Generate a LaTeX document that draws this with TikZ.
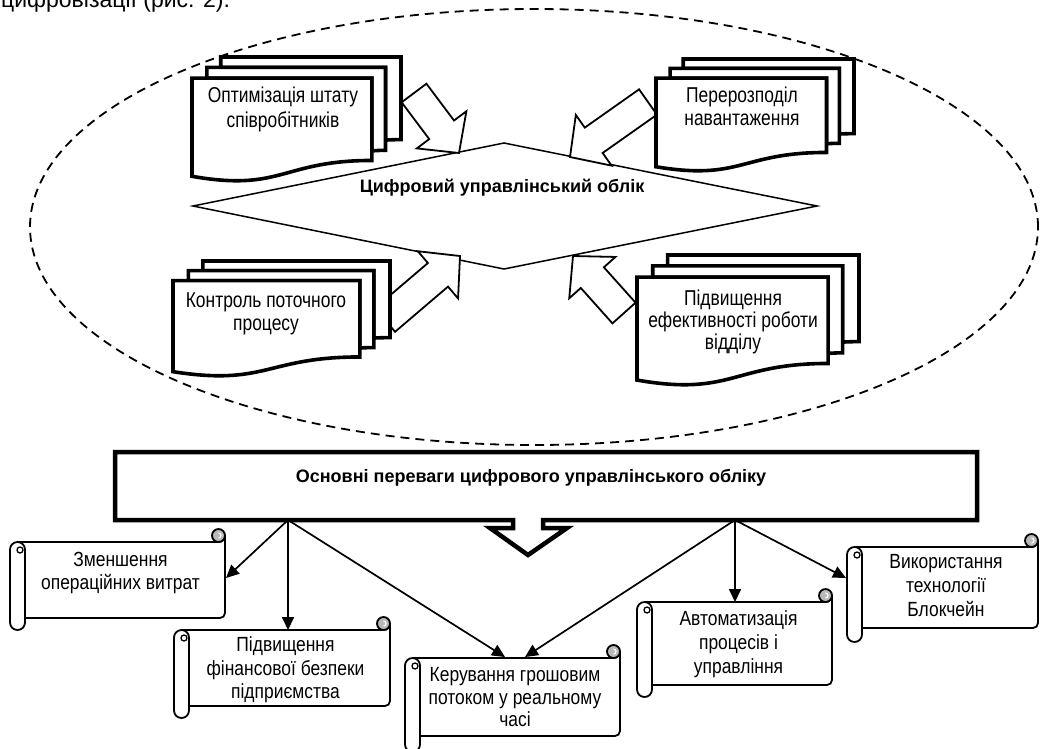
\documentclass[tikz,border=0pt]{standalone}
\usepackage{fontspec}
\setmainfont{Liberation Sans}[FakeStretch=0.85]
\newfontfamily\plainfam{Liberation Sans}
\newfontfamily\docfam{Liberation Sans}[FakeStretch=0.81]
\usetikzlibrary{calc,arrows.meta}
\newcommand\mdoc[4]{%
 \begin{scope}[shift={(#1,#2)},xscale=#3/216,yscale=#4/216]
  \draw[docln] (29.72,18.15) -- (29.72,0) -- (216,0) -- (216,143.92) .. controls (208,143.92) and (200,144.67) .. (200,144.67) -- (200,18.15) -- cycle;
  \draw[docln] (15.32,36.75) -- (15.32,18.15) -- (200,18.15) -- (200,162.52) .. controls (192.98,162.52) and (185.95,163.52) .. (185.95,163.52) -- (185.95,36.75) -- cycle;
  \draw[docln] (0,207.82) .. controls (92.98,235.42) and (92.98,180.22) .. (185.95,180.22) -- (185.95,36.75) -- (0,36.75) -- cycle;
 \end{scope}}
\newcommand\scrl[5]{%
 \draw[scr] (#1+7.5,#2) -- (#3-6.5,#2) arc[start angle=-90,end angle=0,radius=6.5pt] -- (#3,#4-5) arc[start angle=0,end angle=-90,radius=5pt] -- (#1+7.5,#4) -- cycle;
 \draw[scr,fill=gray!55] (#3-6.5,#2-6.5) circle[radius=6.5pt];
 \draw[line width=1.2pt,white] (#3-6.5,#2-4) arc[start angle=-90,end angle=90,radius=2.5pt];
 \draw[scr] (#1,#2+7.5) -- (#1,#5-7.5) arc[start angle=180,end angle=360,radius=7.5pt] -- (#1+15,#2+7.5) arc[start angle=0,end angle=180,radius=7.5pt] -- cycle;
 \draw[line width=1.3pt] (#1+10,#2+8) circle[radius=3pt];}
\newcommand\barrow[2]{%
 \path (#1) coordinate (bT) (#2) coordinate (bH);
 \path ($(bH)!29pt!(bT)$) coordinate (bB);
 \draw[barr] ($(bT)!15.5pt!90:(bH)$) -- ($(bB)!15.5pt!90:(bH)$) -- ($(bB)!31pt!90:(bH)$) -- (bH) -- ($(bB)!31pt!-90:(bH)$) -- ($(bB)!15.5pt!-90:(bH)$) -- ($(bT)!15.5pt!-90:(bH)$) -- cycle;}
\begin{document}
\begin{tikzpicture}[x=1pt,y=-1pt,
  docln/.style={line width=3.6pt,fill=white,line join=miter},
  scr/.style={line width=1.8pt,fill=white,line join=round},
  barr/.style={line width=1.8pt,fill=white,line join=miter},
  con/.style={line width=1.7pt,-{Triangle[length=13pt,width=12pt]}},
  txt/.style={font=\fontsize{20.5}{#1}\selectfont,align=center,anchor=base,inner sep=0pt},
  dtxt/.style={font=\docfam\fontsize{21.5}{#1}\selectfont,align=center,anchor=base,inner sep=0pt},
  btxt/.style={font=\plainfam\fontsize{18}{22}\selectfont\bfseries,anchor=base,inner sep=0pt}]
\useasboundingbox (0,0) rectangle (1040,748);
\fill[white] (0,0) rectangle (1040,748);
\node[font=\plainfam\fontsize{23}{27}\selectfont,anchor=base west,inner sep=0pt] (cap) at (1,7.5) {цифровізації (рис. 2).};
% ellipse
\draw[line width=1.8pt,dash pattern=on 9pt off 6pt] (534,227) ellipse[x radius=504pt,y radius=218pt];
% diamond
\draw[line width=1.5pt,fill=white] (193,206) -- (504,143) -- (817,206) -- (504,269) -- cycle;
\node[btxt] (dia) at (502,192) {Цифровий управлінський облік};
% block arrows
\barrow{414,93}{459,153}
\barrow{648,102}{570,157}
\barrow{385,320}{460,256}
\barrow{624,313}{573,256}
% multidocuments
\mdoc{192}{57}{209}{124}
\node[dtxt=25] (d1) at (283,127) {Оптимізація штату\\співробітників};
\mdoc{656}{59}{198}{112}
\node[dtxt=23] (d2) at (742,125) {Перерозподіл\\навантаження};
\mdoc{173}{261}{217}{115}
\node[dtxt=23] (d3) at (266,330) {Контроль поточного\\процесу};
\mdoc{637}{255}{222}{130}
\node[dtxt=21.7] (d4) at (733,349) {Підвищення\\ефективності роботи\\відділу};
% main box
\draw[line width=4.5pt,fill=white,line join=miter] (513,520) -- (115,520) -- (115,452) -- (977,452) -- (977,520) -- (543,520) -- (543,528) -- (567,528) -- (528,555) -- (490,528) -- (513,528) -- cycle;
\node[btxt] (box) at (531,482) {Основні переваги цифрового управлінського обліку};
% scrolls
\scrl{10}{542}{225}{618}{630}
\node[txt=22.7] (s1t) at (120.5,589.4) {Зменшення\\операційних витрат};
\scrl{174}{630}{390}{706}{718}
\node[txt=23.3] (s2t) at (285.5,698.3) {Підвищення\\фінансової безпеки\\підприємства};
\scrl{405}{658}{620}{736}{752}
\node[txt=22.3] (s3t) at (515,726.3) {Керування грошовим\\потоком у реальному\\часі};
\scrl{637}{602}{832}{685}{697}
\node[txt=24] (s4t) at (738.5,673) {Автоматизація\\процесів і\\управління};
\scrl{847}{547}{1038}{628}{642}
\node[txt=24] (s5t) at (946,616.3) {Використання\\технології\\Блокчейн};
% connectors
\coordinate (bl) at (288,520);
\coordinate (br) at (735,520);
\coordinate (e1) at (226,578);
\coordinate (e2) at (288,630);
\coordinate (e3a) at (505,657);
\coordinate (e3b) at (525,657);
\coordinate (e4) at (735,602);
\coordinate (e5) at (846,578);
\draw[con] (bl) -- (e1);
\draw[con] (bl) -- (e2);
\draw[con] (bl) -- (e3a);
\draw[con] (br) -- (e3b);
\draw[con] (br) -- (e4);
\draw[con] (br) -- (e5);
\end{tikzpicture}
\end{document}
